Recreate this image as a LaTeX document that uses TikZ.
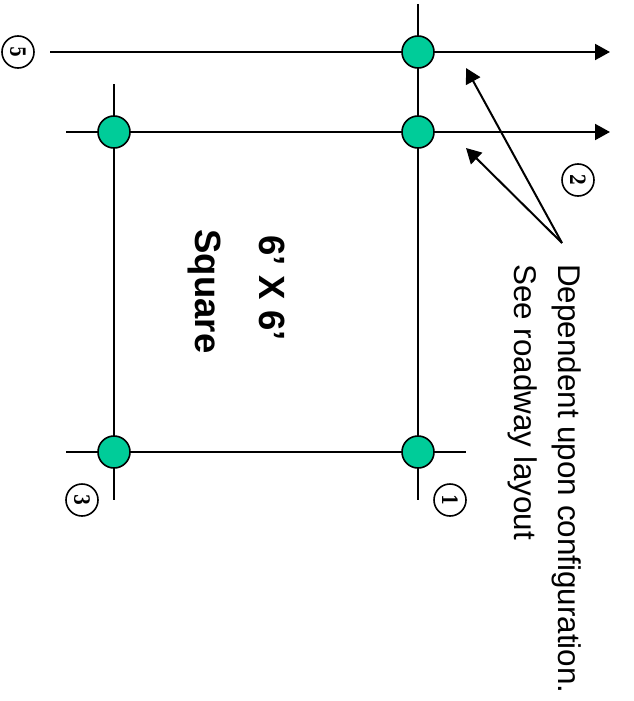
\documentclass[tikz,border=0pt]{standalone}
\usepackage{fontspec}
\setmainfont{Liberation Sans}
\newfontfamily\numfont[FakeStretch=0.75]{DejaVu Serif}
\usetikzlibrary{arrows.meta}
\tikzset{
  line/.style={draw=black,line width=2pt},
  arrowline/.style={line,-{Triangle[length=15pt,width=16pt]}},
  junction/.style={circle,draw=black,line width=1.6pt,fill=junctiongreen,minimum size=32pt,inner sep=0pt},
  numcircle/.style={circle,draw=black,line width=1.6pt,fill=white,minimum size=32pt,inner sep=0pt,font=\numfont\bfseries\fontsize{21}{21}\selectfont,rotate=-90},
  label/.style={rotate=-90,anchor=west,inner sep=0pt,font=\fontsize{31.4}{32}\selectfont},
  title/.style={rotate=-90,inner sep=0pt,font=\fontsize{36.5}{37}\selectfont\bfseries}
}
\definecolor{junctiongreen}{RGB}{0,204,153}
\begin{document}
\begin{tikzpicture}[x=1pt,y=-1pt]
\useasboundingbox (0,0) rectangle (633,701);
\coordinate (a1) at (418,4); \coordinate (a2) at (418,500);
\coordinate (b1) at (114,84); \coordinate (b2) at (114,500);
\coordinate (c1) at (50,52); \coordinate (c2) at (610,52);
\coordinate (d1) at (66,132); \coordinate (d2) at (610,132);
\coordinate (e1) at (66,452); \coordinate (e2) at (466,452);
\coordinate (src) at (562,243);
\coordinate (t1) at (466,68); \coordinate (t2) at (466,148);
\draw[line] (a1) -- (a2);
\draw[line] (b1) -- (b2);
\draw[line] (e1) -- (e2);
\draw[arrowline] (c1) -- (c2);
\draw[arrowline] (d1) -- (d2);
\draw[arrowline] (src) -- (t1);
\draw[arrowline] (src) -- (t2);
\node[junction] (j1) at (418,52) {};
\node[junction] (j2) at (418,132) {};
\node[junction] (j3) at (114,132) {};
\node[junction] (j4) at (114,452) {};
\node[junction] (j5) at (418,452) {};
\node[numcircle] (n5) at (18,52) {5};
\node[numcircle] (n2) at (578,180) {2};
\node[numcircle] (n1) at (450,500) {1};
\node[numcircle] (n3) at (82,500) {3};
\node[title] (t6) at (272,288) {6’ X 6’};
\node[title] (ts) at (204,291.5) {Square};
\node[label] (l1) at (567,264) {Dependent upon configuration.};
\node[label] (l2) at (523,264) {See roadway layout};
\end{tikzpicture}
\end{document}
